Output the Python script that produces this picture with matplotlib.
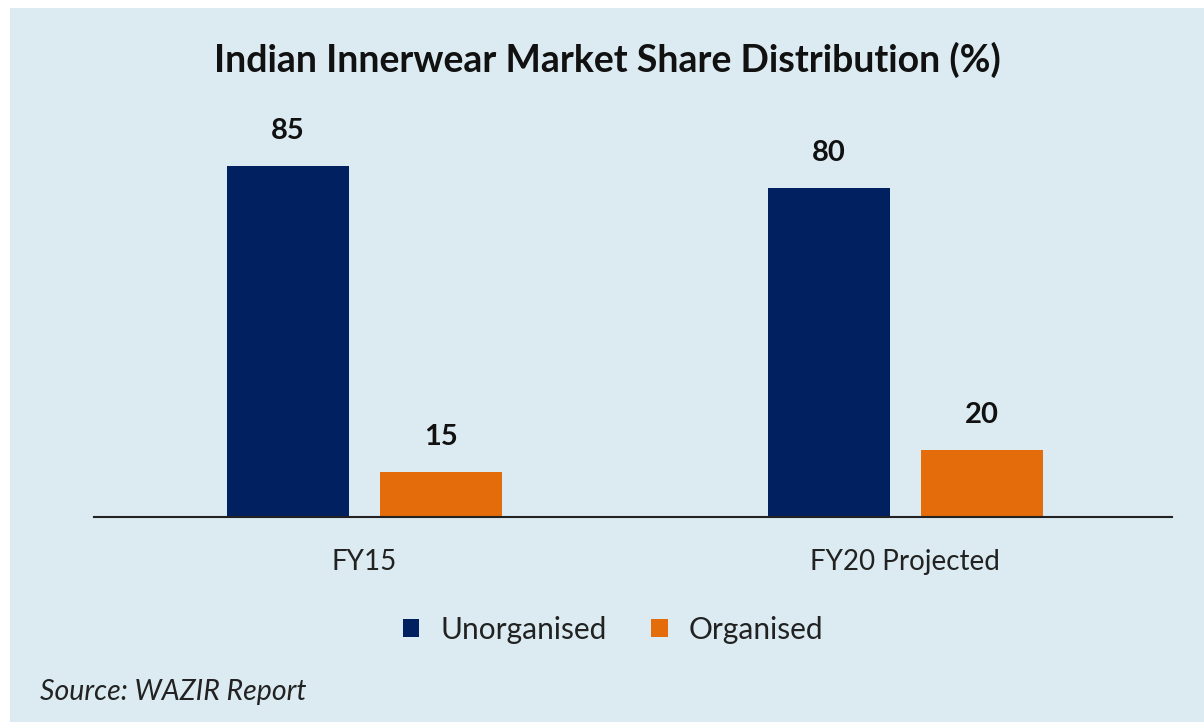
import matplotlib
matplotlib.use("Agg")
import matplotlib.pyplot as plt
from matplotlib.patches import Rectangle

categories = ["FY15", "FY20 Projected"]
series_names = ["Unorganised", "Organised"]
unorganised = [85, 80]
organised = [15, 20]
title = "Indian Innerwear Market Share Distribution (%)"
source = "Source: WAZIR Report"

navy = "#002060"
orange = "#E46C0A"
bg = "#DBEBF1"

plt.rcParams['font.family'] = ['Lato', 'DejaVu Sans']

fig = plt.figure(figsize=(12.04, 7.22), dpi=100)
fig.patch.set_facecolor("white")
fig.patches.append(Rectangle((10/1204, 0), 1 - 10/1204, 1 - 8/722,
                             transform=fig.transFigure, facecolor=bg,
                             edgecolor="none", zorder=-10))

ax = fig.add_axes([94/1204, 205/722, (1172-94)/1204, 416.5/722])
ax.set_facecolor("none")
ax.set_zorder(2)

x = list(range(len(categories)))
w = 0.226
off = 0.1415
b1 = ax.bar([i - off for i in x], unorganised, width=w, color=navy, label=series_names[0])
b2 = ax.bar([i + off for i in x], organised, width=w, color=orange, label=series_names[1])

ax.set_ylim(4.7, 100)
ax.set_xlim(-0.5, 1.493)

for bars, vals in ((b1, unorganised), (b2, organised)):
    for rect, v in zip(bars, vals):
        ax.annotate(str(v), (rect.get_x() + rect.get_width()/2, v),
                    xytext=(0, 16), textcoords="offset points",
                    ha="center", va="bottom", fontsize=21, fontweight="bold",
                    color="#111111")

for s in ("top", "right", "left"):
    ax.spines[s].set_visible(False)
ax.spines["bottom"].set_color("#222222")
ax.spines["bottom"].set_linewidth(1.5)
ax.set_yticks([])
ax.set_xticks(x)
ax.set_xticklabels(categories, fontsize=20, color="#222222")
ax.tick_params(axis="x", length=0, pad=23)

fig.text(607/1204, 1 - 60/722, title, ha="center", va="center",
         fontsize=27, fontweight="bold", color="#111111")

leg = fig.legend(handles=[b1, b2], labels=series_names, loc="center",
                 bbox_to_anchor=(613/1204, 1 - 630/722), ncol=2, frameon=False,
                 fontsize=21.5, handlelength=0.55, handleheight=0.55,
                 handletextpad=0.7, columnspacing=1.5)
for t in leg.get_texts():
    t.set_color("#222222")

fig.text(40/1204, 1 - 692/722, source, ha="left", va="center",
         fontsize=20.5, fontstyle="italic", color="#222222")

fig.savefig("out.png", dpi=100, facecolor=fig.get_facecolor())
